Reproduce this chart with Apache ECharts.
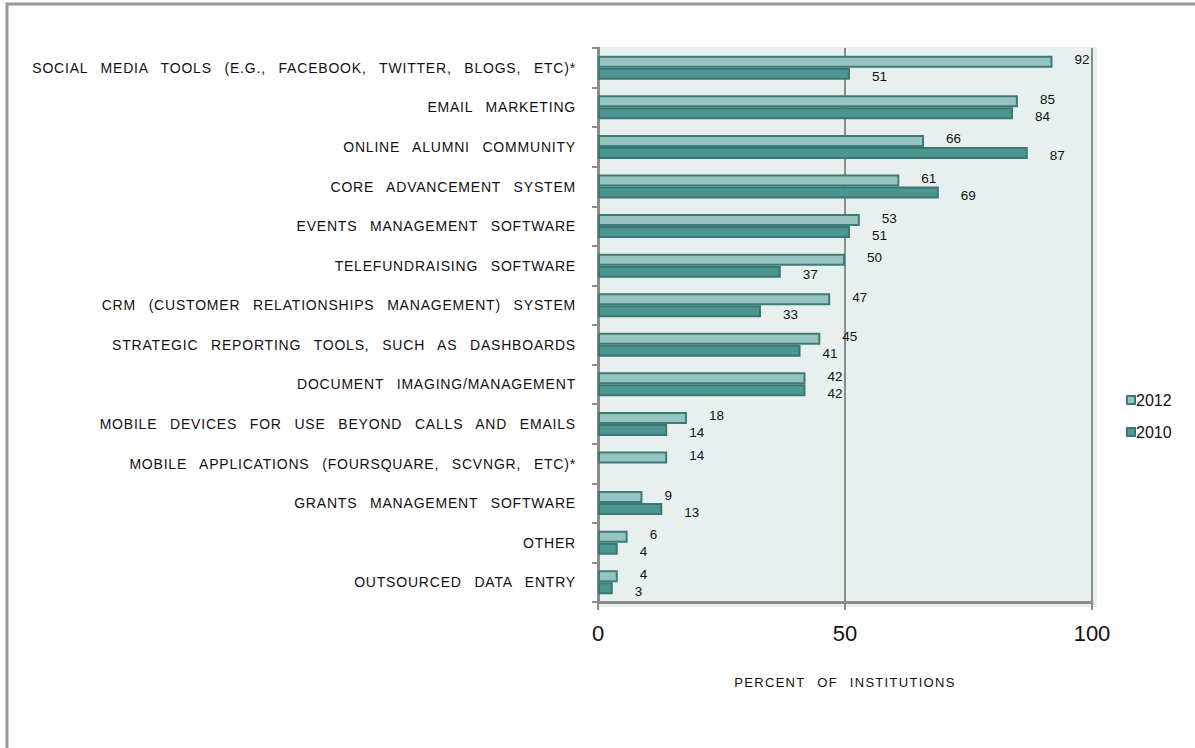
<!DOCTYPE html>
<html>
<head>
<meta charset="utf-8">
<title>Technology use</title>
<script src="https://cdn.jsdelivr.net/npm/echarts@6/dist/echarts.min.js"></script>
<style>
  html, body { margin: 0; padding: 0; background: #fff; }
  #chart { width: 1195px; height: 748px; }
  /* the reference text is spaced out: category labels (14px) and the axis name (13px) */
  #chart text[style*="14px"] { letter-spacing: 0.8px; word-spacing: 8px; }
  #chart text[style*="13px"] { letter-spacing: 1.3px; word-spacing: 7px; }
</style>
</head>
<body>
<div id="chart"></div>
<script>
var categories = [
  'SOCIAL MEDIA TOOLS (E.G., FACEBOOK, TWITTER, BLOGS, ETC)*',
  'EMAIL MARKETING',
  'ONLINE ALUMNI COMMUNITY',
  'CORE ADVANCEMENT SYSTEM',
  'EVENTS MANAGEMENT SOFTWARE',
  'TELEFUNDRAISING SOFTWARE',
  'CRM (CUSTOMER RELATIONSHIPS MANAGEMENT) SYSTEM',
  'STRATEGIC REPORTING TOOLS, SUCH AS DASHBOARDS',
  'DOCUMENT IMAGING/MANAGEMENT',
  'MOBILE DEVICES FOR USE BEYOND CALLS AND EMAILS',
  'MOBILE APPLICATIONS (FOURSQUARE, SCVNGR, ETC)*',
  'GRANTS MANAGEMENT SOFTWARE',
  'OTHER',
  'OUTSOURCED DATA ENTRY'
];
var values2012 = [92, 85, 66, 61, 53, 50, 47, 45, 42, 18, 14, 9, 6, 4];
var values2010 = [51, 84, 87, 69, 51, 37, 33, 41, 42, 14, null, 13, 4, 3];
var xTicks = [0, 50, 100];

var font = "'Liberation Sans', Arial, sans-serif";
var gray = '#8c8c8c';

var myChart = echarts.init(document.getElementById('chart'), null, { renderer: 'svg' });

myChart.setOption({
  backgroundColor: '#ffffff',
  animation: false,
  textStyle: { fontFamily: font },
  graphic: [{
    type: 'rect',
    z: -1,
    shape: { x: 598, y: 47, width: 499, height: 560 },
    style: { fill: '#e7f0ef' }
  }, {
    type: 'rect',
    shape: { x: 7, y: 4, width: 1220, height: 800 },
    style: { fill: 'none', stroke: '#9a9a9a', lineWidth: 3 }
  }],
  legend: {
    orient: 'vertical',
    left: 1121,
    top: 387,
    itemGap: 16,
    itemWidth: 8,
    itemHeight: 8,
    icon: 'rect',
    textStyle: { fontSize: 16, color: '#111', fontFamily: font, padding: [0, 0, 0, -4] },
    data: ['2012', '2010']
  },
  grid: {
    left: 598,
    right: 103,
    top: 48,
    bottom: 146
  },
  xAxis: {
    type: 'value',
    min: xTicks[0],
    max: xTicks[xTicks.length - 1],
    interval: xTicks[1] - xTicks[0],
    name: 'PERCENT OF INSTITUTIONS',
    nameLocation: 'middle',
    nameGap: 74,
    nameTextStyle: { fontSize: 13, color: '#111', fontFamily: font },
    axisLine: { show: true, lineStyle: { color: gray, width: 3 } },
    axisTick: { show: true, length: 8, lineStyle: { color: gray, width: 2 } },
    axisLabel: { fontSize: 22, color: '#111', margin: 20, fontFamily: font },
    splitLine: { show: true, lineStyle: { color: gray, width: 2 } }
  },
  yAxis: {
    type: 'category',
    inverse: true,
    data: categories,
    axisLine: { show: true, lineStyle: { color: gray, width: 3 } },
    axisTick: { show: true, length: 6, lineStyle: { color: gray, width: 2 } },
    axisLabel: { fontSize: 14, color: '#111', margin: 22, fontFamily: font }
  },
  series: [{
    name: '2012',
    type: 'bar',
    barWidth: 12,
    barGap: '0%',
    data: values2012,
    itemStyle: { color: '#96c4c1', borderColor: '#3d7b77', borderWidth: 2 },
    label: {
      show: true, position: 'right', distance: 22, offset: [0, -2],
      fontSize: 13.5, color: '#111', fontFamily: font
    }
  }, {
    name: '2010',
    type: 'bar',
    barWidth: 12,
    barGap: '0%',
    data: values2010,
    itemStyle: { color: '#4c9691', borderColor: '#3a7772', borderWidth: 2 },
    label: {
      show: true, position: 'right', distance: 22, offset: [0, 3],
      fontSize: 13.5, color: '#111', fontFamily: font
    }
  }]
});
</script>
</body>
</html>
